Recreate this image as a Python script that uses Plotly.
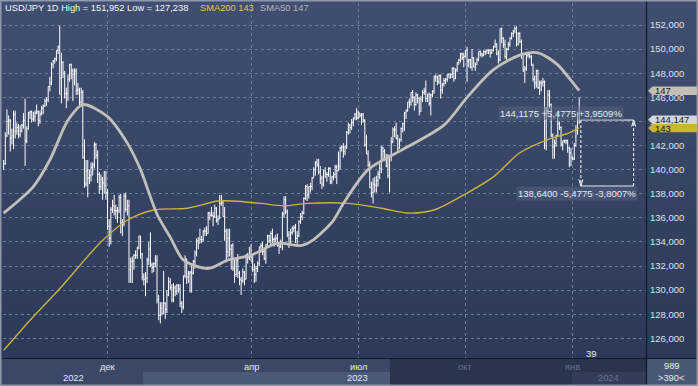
import plotly.graph_objects as go
import pandas as pd

# ---------------- data ----------------
symbol = "USD/JPY"
timeframe = "1D"
dates = pd.bdate_range("2022-09-05", "2024-01-05")  # one bar per weekday

opens = [
    # Sep 2022
    140.2,140.5,142.8,144.0,144.1,142.6,142.8,144.6,143.2,143.5,142.9,143.2,143.7,144.1,142.4,143.4,144.7,144.8,144.2,144.4,
    # Oct 2022
    144.7,144.8,144.1,144.6,145.1,145.3,145.7,145.8,146.9,147.2,148.7,149.0,149.2,149.9,150.2,147.6,148.9,148.0,146.3,146.3,147.5,
    # Nov 2022
    148.7,148.2,147.9,148.2,146.6,146.6,145.6,146.4,141.0,138.8,139.9,139.3,139.5,140.2,140.4,142.1,141.2,139.6,138.6,139.2,138.9,138.7,
    # Dec 2022
    138.1,135.3,134.3,136.7,137.0,136.6,136.6,136.6,137.7,135.6,135.5,137.8,136.7,137.0,131.7,132.4,132.4,132.9,132.9,133.5,134.5,133.0,
    # Jan 2023
    131.1,130.9,131.0,132.5,133.4,132.1,131.9,132.2,132.5,129.2,127.9,128.5,128.1,128.9,128.4,129.6,130.7,130.2,129.2,130.2,129.9,130.4,
    # Feb 2023
    130.1,128.9,128.6,131.2,132.6,131.1,131.4,131.5,131.4,132.4,133.1,134.1,133.9,134.2,134.2,134.9,134.9,134.7,136.4,136.2,
    # Mar 2023
    136.2,136.1,136.8,135.8,135.9,137.2,137.3,136.1,134.9,133.2,134.3,133.4,133.7,131.8,131.3,132.5,131.4,130.9,130.8,131.5,130.9,132.9,132.7,
    # Apr 2023
    132.8,132.4,131.7,131.3,131.8,132.2,133.6,133.7,133.2,132.6,133.8,134.5,134.1,134.7,134.2,134.2,134.3,133.7,133.6,133.9,
    # May 2023
    136.3,137.5,136.5,134.6,134.3,134.8,135.1,135.2,134.3,134.5,135.7,136.1,136.4,137.6,138.6,137.9,138.6,138.6,139.3,140.0,140.6,140.4,139.8,
    # Jun 2023
    139.3,138.8,139.9,139.6,139.6,140.1,139.0,139.4,139.6,140.2,139.9,140.3,141.8,141.9,141.5,141.9,143.1,143.7,143.5,143.9,144.3,144.6,
    # Jul 2023
    144.3,144.7,144.5,144.6,144.1,142.1,141.3,140.4,138.5,138.1,138.8,138.7,139.1,139.6,140.1,141.8,141.5,140.9,140.3,139.5,141.2,
    # Aug 2023
    142.3,143.3,143.3,142.6,141.8,142.5,143.4,143.8,144.7,144.9,145.6,145.6,146.4,146.0,145.4,146.2,145.9,144.8,145.8,146.4,146.5,145.9,146.2,
    # Sep 2023
    145.5,146.2,146.5,147.7,147.7,147.3,147.8,146.6,147.1,147.4,147.5,147.9,147.6,147.9,148.4,147.6,148.3,148.9,149.1,149.6,149.3,
    # Oct 2023
    149.4,149.9,149.0,149.1,148.5,149.3,148.5,148.7,149.1,149.8,149.6,149.5,149.8,149.8,149.9,149.9,149.7,149.9,150.2,150.4,149.6,149.1,
    # Nov 2023
    151.7,150.9,150.4,149.4,150.0,150.4,150.9,151.3,151.5,151.7,150.4,151.3,150.6,149.6,148.3,148.4,149.5,149.6,149.4,148.7,147.5,147.2,
    # Dec 2023
    148.2,146.8,147.2,147.2,147.3,144.1,144.9,146.2,145.4,142.9,141.9,142.2,142.8,143.8,143.5,142.1,142.4,142.4,142.4,141.8,141.4,
    # Jan 2024
    141.0,140.9,142.0,143.3,144.6,
]
highs = [
    140.8,143.1,145.0,144.5,144.2,143.4,144.9,144.9,143.9,143.8,143.7,143.8,144.7,145.9,143.6,144.8,144.9,144.9,144.8,144.9,
    145.4,144.9,144.9,145.3,145.4,145.9,146.0,146.9,147.7,148.9,149.1,149.3,149.9,150.3,151.952,149.7,149.0,148.2,146.8,147.9,148.8,
    148.8,148.4,148.4,148.4,147.2,146.8,146.8,146.6,142.5,140.8,140.8,140.0,140.6,140.6,142.3,142.2,141.6,139.8,139.6,139.4,139.9,139.9,
    138.4,135.9,136.9,137.5,137.9,137.1,136.9,137.9,138.0,135.9,138.0,138.1,137.5,137.5,132.7,132.8,133.0,133.3,133.6,134.5,134.5,133.1,
    131.4,131.5,132.7,134.0,134.8,132.3,132.3,132.9,132.9,129.6,129.0,129.0,131.6,129.0,130.0,131.1,131.0,130.5,130.6,130.4,130.5,130.5,
    130.5,129.1,131.2,132.9,132.6,131.6,131.6,132.0,132.5,133.3,134.3,134.4,135.1,134.5,135.0,135.2,135.3,136.5,136.5,136.9,
    136.5,137.1,136.9,136.2,137.9,137.9,137.5,136.9,135.1,135.1,135.1,133.8,133.9,132.6,132.6,133.0,131.6,131.1,131.8,131.6,133.0,133.1,133.6,
    133.8,132.9,132.2,132.0,132.4,133.6,133.9,134.0,133.4,133.8,134.6,134.6,134.9,135.1,134.4,134.6,134.7,133.9,134.2,136.5,
    137.8,137.8,136.7,134.9,135.1,135.3,135.4,135.5,134.9,135.8,136.4,136.6,137.7,138.7,138.8,138.6,138.9,139.4,140.2,140.7,140.9,140.9,140.3,
    139.5,140.0,140.2,139.8,140.2,140.2,139.5,139.8,140.4,140.4,141.5,141.9,142.0,142.2,142.0,143.2,143.9,143.8,144.2,144.3,144.7,145.1,
    144.9,144.7,144.7,144.7,144.2,142.9,141.6,140.7,139.0,139.3,139.4,139.5,139.9,140.5,142.0,141.9,141.7,141.3,141.3,141.2,142.7,
    143.5,143.6,143.9,142.9,142.6,143.5,143.9,144.8,145.0,145.6,145.9,146.4,146.6,146.1,146.4,146.3,146.0,146.1,146.6,146.8,147.4,146.3,146.4,
    146.3,146.6,147.8,147.9,147.8,147.9,147.9,147.2,147.6,147.6,147.9,148.0,148.0,148.5,148.5,148.4,148.9,149.2,149.7,149.7,149.7,
    149.9,150.2,149.2,149.2,150.0,149.3,148.9,149.3,149.8,149.9,149.7,149.9,149.9,150.0,150.0,150.0,150.0,150.3,150.8,150.5,149.9,151.7,
    151.8,151.0,150.8,150.1,150.6,151.0,151.4,151.6,151.9,151.9,151.4,151.4,150.8,149.7,148.6,149.6,149.8,149.7,149.5,148.8,147.8,148.3,
    148.3,147.4,147.4,147.6,147.4,145.2,146.6,146.6,145.5,143.0,142.5,142.9,144.9,144.0,143.6,142.4,142.5,142.5,142.5,141.9,141.8,
    141.1,142.2,143.7,144.8,146.0,
]
lows = [
    140.0,140.4,142.7,142.9,141.5,142.1,141.7,142.6,142.9,142.6,142.7,143.1,143.4,140.3,142.2,143.3,144.2,143.9,144.0,144.0,
    144.6,143.6,143.8,144.5,144.6,145.2,145.3,145.6,146.5,147.0,148.4,148.8,149.0,149.6,146.2,145.5,147.6,145.9,145.1,145.7,147.3,
    147.5,145.7,147.0,146.2,146.2,145.3,145.2,140.9,138.5,138.6,137.7,138.8,139.0,139.5,140.1,140.9,138.9,138.0,138.3,137.5,138.0,137.5,
    135.0,133.6,133.8,136.4,136.2,135.9,135.6,136.4,134.7,134.5,135.3,136.5,136.2,130.6,130.6,130.6,131.7,132.6,132.6,133.4,132.6,130.8,
    130.4,129.5,130.6,132.1,131.9,131.4,131.5,131.9,128.9,127.5,127.238,127.9,128.0,127.6,128.1,129.5,130.0,129.0,129.0,129.5,129.6,129.8,
    128.6,128.1,128.4,131.0,130.5,130.6,129.8,129.8,131.3,131.8,132.8,133.4,133.9,133.9,134.0,134.5,134.5,134.7,135.8,136.1,
    135.3,136.0,135.6,135.4,135.9,137.0,136.1,134.1,132.3,132.7,132.8,131.7,131.6,130.6,131.1,131.0,130.4,129.6,130.6,130.4,130.9,132.2,132.5,
    132.4,131.5,130.6,130.7,131.5,132.0,133.1,132.9,132.5,132.2,133.6,133.9,133.8,133.9,133.6,134.0,133.6,133.0,133.5,133.3,
    136.0,136.3,134.4,133.5,133.9,134.6,134.8,133.9,133.7,134.4,135.5,135.8,136.3,137.5,137.4,137.6,138.1,138.3,139.3,139.5,140.2,139.6,138.8,
    138.4,138.6,139.3,139.0,139.4,138.8,138.8,139.1,139.3,138.8,139.9,140.0,141.5,141.0,141.2,141.7,142.9,143.0,143.3,143.6,144.1,144.1,
    144.2,144.3,143.7,143.9,141.9,141.3,140.2,138.5,137.7,137.2,138.1,138.1,138.6,139.2,139.7,140.9,140.7,140.2,139.3,138.1,140.7,
    142.2,142.7,142.5,141.5,141.7,142.3,143.1,143.2,144.2,144.8,145.1,145.3,145.6,144.9,145.3,145.5,144.5,144.8,145.6,146.2,145.6,145.6,145.3,
    144.5,146.0,146.3,147.3,147.0,147.1,145.9,146.3,146.9,147.1,147.3,147.6,147.6,147.6,147.3,147.5,148.1,148.7,148.9,149.1,148.5,
    149.3,147.3,148.5,148.4,148.2,148.5,148.2,148.7,149.0,149.4,149.3,149.4,149.5,149.6,149.6,149.3,149.6,149.8,150.1,149.5,148.8,149.0,
    150.5,150.1,149.2,149.1,149.9,150.2,150.8,151.0,151.3,150.2,150.3,150.5,149.2,148.1,147.2,148.2,149.3,149.2,148.6,147.3,146.7,146.8,
    146.7,146.2,146.5,146.9,141.7,141.6,144.8,145.1,142.7,140.9,140.9,141.9,142.7,143.3,141.9,141.6,142.2,142.1,141.4,140.2,140.3,
    140.8,140.8,141.9,142.9,143.8,
]
closes = [
    140.5,142.8,144.0,144.1,142.6,142.8,144.6,143.2,143.5,142.9,143.2,143.7,144.1,142.4,143.4,144.7,144.8,144.2,144.4,144.7,
    144.8,144.1,144.6,145.1,145.3,145.7,145.8,146.9,147.2,148.7,149.0,149.2,149.9,150.2,147.6,148.9,148.0,146.3,146.3,147.5,148.7,
    148.2,147.9,148.2,146.6,146.6,145.6,146.4,141.0,138.8,139.9,139.3,139.5,140.2,140.4,142.1,141.2,139.6,138.6,139.2,138.9,138.7,138.1,
    135.3,134.3,136.7,137.0,136.6,136.6,136.6,137.7,135.6,135.5,137.8,136.7,137.0,131.7,132.4,132.4,132.9,132.9,133.5,134.5,133.0,131.1,
    130.9,131.0,132.5,133.4,132.1,131.9,132.2,132.5,129.2,127.9,128.5,128.1,128.9,128.4,129.6,130.7,130.2,129.2,130.2,129.9,130.4,130.1,
    128.9,128.6,131.2,132.6,131.1,131.4,131.5,131.4,132.4,133.1,134.1,133.9,134.2,134.2,134.9,134.9,134.7,136.4,136.2,136.2,
    136.1,136.8,135.8,135.9,137.2,137.3,136.1,134.9,133.2,134.3,133.4,133.7,131.8,131.3,132.5,131.4,130.9,130.8,131.5,130.9,132.9,132.7,132.8,
    132.4,131.7,131.3,131.8,132.2,133.6,133.7,133.2,132.6,133.8,134.5,134.1,134.7,134.2,134.2,134.3,133.7,133.6,133.9,136.3,
    137.5,136.5,134.6,134.3,134.8,135.1,135.2,134.3,134.5,135.7,136.1,136.4,137.6,138.6,137.9,138.6,138.6,139.3,140.0,140.6,140.4,139.8,139.3,
    138.8,139.9,139.6,139.6,140.1,139.0,139.4,139.6,140.2,139.9,140.3,141.8,141.9,141.5,141.9,143.1,143.7,143.5,143.9,144.3,144.6,144.3,
    144.7,144.5,144.6,144.1,142.1,141.3,140.4,138.5,138.1,138.8,138.7,139.1,139.6,140.1,141.8,141.5,140.9,140.3,139.5,141.2,142.3,
    143.3,143.3,142.6,141.8,142.5,143.4,143.8,144.7,144.9,145.6,145.6,146.4,146.0,145.4,146.2,145.9,144.8,145.8,146.4,146.5,145.9,146.2,145.5,
    146.2,146.5,147.7,147.7,147.3,147.8,146.6,147.1,147.4,147.5,147.9,147.6,147.9,148.4,147.6,148.3,148.9,149.1,149.6,149.3,149.4,
    149.9,149.0,149.1,148.5,149.3,148.5,148.7,149.1,149.8,149.6,149.5,149.8,149.8,149.9,149.9,149.7,149.9,150.2,150.4,149.6,149.1,151.7,
    150.9,150.4,149.4,150.0,150.4,150.9,151.3,151.5,151.7,150.4,151.3,150.6,149.6,148.3,148.4,149.5,149.6,149.4,148.7,147.5,147.2,148.2,
    146.8,147.2,147.2,147.3,144.1,144.9,146.2,145.4,142.9,141.9,142.2,142.8,143.8,143.5,142.1,142.4,142.4,142.4,141.8,141.4,141.0,
    140.9,142.0,143.3,144.6,144.147,
]

# moving averages (bar position, value)
sma50_pos = [0, 18, 28, 39, 48, 63, 75, 83, 93, 101, 109, 124, 136, 150, 166, 180, 188, 200, 206,
             221, 241, 267, 281, 297, 313, 324, 336, 344, 349]
sma50_val = [136.4, 138.6, 140.8, 144.1, 145.4, 144.4, 142.2, 140.0, 136.3, 134.4, 132.5, 131.8, 132.5,
             132.9, 133.9, 133.7, 134.2, 135.8, 137.2, 140.0, 141.6, 143.7, 146.0, 148.3, 149.5, 149.7,
             148.7, 147.4, 146.55]
sma200_pos = [0, 16, 34.5, 59, 75, 91, 111.5, 130, 139, 156, 170, 184, 209, 229, 245, 261, 281, 297,
              313, 330, 342, 349]
sma200_val = [125.0, 127.5, 130.2, 134.0, 135.8, 136.65, 136.8, 137.4, 137.4, 137.2, 137.0, 137.2, 137.2,
              136.8, 136.4, 136.65, 138.06, 139.4, 141.4, 142.5, 143.0, 143.45]

month_ticks = ["2022-12", "2023-04", "2023-07", "2023-10", "2024-01"]
month_names = ["дек", "апр", "июл", "окт", "янв"]
ytick_vals = list(range(126, 153, 2))
ytick_text = [f"{v},000" for v in ytick_vals]

measure_top = 144.1175
measure_bottom = 138.64
measure_left_pos = 350
measure_right_pos = 382
measure_count = "39"
footer_total = "989"
footer_visible = ">390<"

for name, arr in (("opens", opens), ("highs", highs), ("lows", lows), ("closes", closes)):
    if len(arr) != len(dates):
        raise SystemExit(f"{name}: {len(arr)} values for {len(dates)} dates")

# ---------------- layout constants ----------------
W, H = 698, 386
ML, MR, MT, MB = 3, 52, 3, 28
PW, PH = W - ML - MR, H - MT - MB
X0, X1 = -0.4, 389.5
Y0, Y1 = 124.37, 153.83
FONT = "Liberation Sans, Arial, sans-serif"


def px(xp):
    return (xp - ML) / PW


def py(yp):
    return (H - MB - yp) / PH


def vy(v):
    return (v - Y0) / (Y1 - Y0)


def fmt(v, d):
    return f"{v:.{d}f}".replace(".", ",")


pos = list(range(len(dates)))
fig = go.Figure()

fig.add_trace(go.Ohlc(
    x=pos, open=opens, high=highs, low=lows, close=closes,
    increasing=dict(line=dict(color="#ffffff", width=1)),
    decreasing=dict(line=dict(color="#ffffff", width=1)),
    tickwidth=0.5, hoverinfo="skip", showlegend=False,
))
fig.add_trace(go.Scatter(
    x=sma200_pos, y=sma200_val, mode="lines",
    line=dict(color="#cdb240", width=1.4, shape="spline", smoothing=0.8),
    hoverinfo="skip", showlegend=False,
))
fig.add_trace(go.Scatter(
    x=sma50_pos, y=sma50_val, mode="lines",
    line=dict(color="#c3bfb9", width=2.8, shape="spline", smoothing=0.8),
    hoverinfo="skip", showlegend=False,
))

# month ticks: first bar of each listed month
ym = [d.strftime("%Y-%m") for d in dates]
month_pos = [ym.index(m) if m in ym else None for m in month_ticks]

shapes = []
annotations = []

# background gradient (plot + right panel)
top_rgb = (0x40, 0x4f, 0x71)
bot_rgb = (0x2c, 0x39, 0x58)
nb = 36
band_h = (H - MB) / nb
for k in range(nb):
    t = k / (nb - 1)
    c = tuple(round(top_rgb[j] + (bot_rgb[j] - top_rgb[j]) * t) for j in range(3))
    shapes.append(dict(type="rect", xref="paper", yref="paper", layer="below",
                       x0=px(0), x1=px(W), y0=py(k * band_h + band_h + 0.5), y1=py(k * band_h),
                       fillcolor="rgb(%d,%d,%d)" % c, line_width=0))


def prect(x0, y0, x1, y1, color, layer="below"):
    shapes.append(dict(type="rect", xref="paper", yref="paper", layer=layer,
                       x0=px(x0), x1=px(x1), y0=py(y1), y1=py(y0), fillcolor=color, line_width=0))


# bottom panel
prect(0, H - MB, 390, H, "#3a4767")
prect(143, 372, 390, H, "#4b5979")
prect(390, H - MB, ML + PW, H, "#29354f")
prect(572, 372, ML + PW, H, "#313d59")
prect(ML + PW, H - MB, W, H, "#4a5877")

# separators and frame
shapes.append(dict(type="line", xref="paper", yref="paper", layer="above",
                   x0=px(ML + PW + 0.5), x1=px(ML + PW + 0.5), y0=py(H), y1=py(0),
                   line=dict(color="#0f1828", width=1.2)))
shapes.append(dict(type="line", xref="paper", yref="paper", layer="above",
                   x0=px(0), x1=px(W), y0=py(H - MB + 0.5), y1=py(H - MB + 0.5),
                   line=dict(color="#0f1828", width=1.2)))
shapes.append(dict(type="rect", xref="paper", yref="paper", layer="above",
                   x0=px(0.75), x1=px(W - 0.75), y0=py(H - 0.75), y1=py(0.75),
                   line=dict(color="#8d98ad", width=1.5), fillcolor="rgba(0,0,0,0)"))

# measurement tool
mdiff = measure_top - measure_bottom
shapes += [
    dict(type="line", xref="x", yref="y", x0=measure_left_pos, x1=measure_right_pos,
         y0=measure_top, y1=measure_top, line=dict(color="#ffffff", width=1)),
    dict(type="line", xref="x", yref="y", x0=measure_left_pos, x1=measure_right_pos,
         y0=measure_bottom, y1=measure_bottom, line=dict(color="#ffffff", width=1)),
    dict(type="line", xref="x", yref="y", x0=measure_left_pos, x1=measure_left_pos,
         y0=measure_top, y1=measure_bottom, line=dict(color="#ffffff", width=1, dash="3px,2px")),
    dict(type="line", xref="x", yref="y", x0=measure_right_pos, x1=measure_right_pos,
         y0=measure_bottom, y1=measure_top, line=dict(color="#ffffff", width=1, dash="3px,2px")),
    dict(type="path", xref="x", yref="y",
         path=f"M {measure_left_pos-1.2},{measure_bottom+0.55} L {measure_left_pos},{measure_bottom} "
              f"L {measure_left_pos+1.2},{measure_bottom+0.55}",
         line=dict(color="#ffffff", width=1)),
    dict(type="path", xref="x", yref="y",
         path=f"M {measure_right_pos-1.2},{measure_top-0.55} L {measure_right_pos},{measure_top} "
              f"L {measure_right_pos+1.2},{measure_top-0.55}",
         line=dict(color="#ffffff", width=1)),
]
top_txt = f"{fmt(measure_top, 4)} +{fmt(mdiff, 4)} +{fmt(mdiff / measure_bottom * 100, 4)}%"
bot_txt = f"{fmt(measure_bottom, 4)} -{fmt(mdiff, 4)} -{fmt(mdiff / measure_top * 100, 4)}%"
annotations.append(dict(text=top_txt, xref="paper", yref="paper", x=px(624), y=py(113),
                        xanchor="right", yanchor="middle", showarrow=False,
                        font=dict(family=FONT, size=9.5, color="#e6e9ef"),
                        bgcolor="rgba(90,105,135,0.45)", borderpad=1))
annotations.append(dict(text=bot_txt, xref="paper", yref="paper", x=px(638), y=py(194),
                        xanchor="right", yanchor="middle", showarrow=False,
                        font=dict(family=FONT, size=9.5, color="#e6e9ef"),
                        bgcolor="rgba(90,105,135,0.45)", borderpad=1))
annotations.append(dict(text=measure_count, xref="paper", yref="paper", x=px(591), y=py(353),
                        xanchor="center", yanchor="middle", showarrow=False,
                        font=dict(family=FONT, size=9.5, color="#e6e9ef")))


# price tags on the right axis
def tag(value, text, fill):
    yc = vy(value)
    hh = 4.2 / PH
    xa, xb, xc = px(648), px(652.5), px(W - 1)
    shapes.append(dict(type="path", xref="paper", yref="paper", layer="above",
                       path=f"M {xa},{yc} L {xb},{yc+hh} L {xc},{yc+hh} L {xc},{yc-hh} L {xb},{yc-hh} Z",
                       fillcolor=fill, line_width=0))
    annotations.append(dict(text=text, xref="paper", yref="y", x=px(652.5), y=value,
                            xanchor="left", yanchor="middle", showarrow=False,
                            font=dict(family=FONT, size=9.5, color="#1c1c1c")))


tag(sma50_val[-1], f"{round(sma50_val[-1])}", "#c3beb6")
tag(closes[-1], fmt(closes[-1], 3), "#d2d5dc")
tag(sma200_val[-1], f"{round(sma200_val[-1])}", "#c9b436")

# header
header = f"{symbol} {timeframe} High = {fmt(max(highs), 3)} Low = {fmt(min(lows), 3)}"
annotations.append(dict(text=header, xref="paper", yref="paper", x=px(3), y=py(8),
                        xanchor="left", yanchor="middle", showarrow=False,
                        font=dict(family=FONT, size=9.3, color="#f2f4f8")))
annotations.append(dict(text=f"SMA200 {round(sma200_val[-1])}", xref="paper", yref="paper",
                        x=px(198), y=py(8), xanchor="left", yanchor="middle", showarrow=False,
                        font=dict(family=FONT, size=9.3, color="#e3c64a")))
annotations.append(dict(text=f"SMA50 {round(sma50_val[-1])}", xref="paper", yref="paper",
                        x=px(258), y=py(8), xanchor="left", yanchor="middle", showarrow=False,
                        font=dict(family=FONT, size=9.3, color="#b9b6b2")))

# x labels: months and years
for p, lab in zip(month_pos, month_names):
    dim = p > 216
    annotations.append(dict(text=lab, xref="x", yref="paper", x=p, y=py(367),
                            xanchor="center", yanchor="middle", showarrow=False,
                            font=dict(family=FONT, size=9.3, color="#66738e" if dim else "#e4e8ee")))
years = sorted(set(d.year for d in dates))
for yr in years:
    idxs = [i for i, d in enumerate(dates) if d.year == yr]
    a = max(X0, idxs[0] - 0.5)
    b = X1 if yr == years[-1] else idxs[-1] + 0.5
    cx = (a + b) / 2
    annotations.append(dict(text=str(yr), xref="x", yref="paper", x=cx, y=py(378),
                            xanchor="center", yanchor="middle", showarrow=False,
                            font=dict(family=FONT, size=9.3,
                                      color="#66738e" if yr == years[-1] else "#e4e8ee")))

annotations.append(dict(text=footer_total, xref="paper", yref="paper", x=px(672), y=py(366),
                        xanchor="center", yanchor="middle", showarrow=False,
                        font=dict(family=FONT, size=9.3, color="#e4e8ee")))
annotations.append(dict(text=footer_visible, xref="paper", yref="paper", x=px(671), y=py(378),
                        xanchor="center", yanchor="middle", showarrow=False,
                        font=dict(family=FONT, size=9.3, color="#e4e8ee")))

fig.update_layout(
    width=W, height=H,
    margin=dict(l=ML, r=MR, t=MT, b=MB, pad=0),
    paper_bgcolor="#34415f", plot_bgcolor="rgba(0,0,0,0)",
    showlegend=False,
    shapes=shapes, annotations=annotations,
    xaxis=dict(range=[X0, X1], tickmode="array", tickvals=month_pos, showticklabels=False,
               ticks="", showgrid=True, gridcolor="#6e7c99", griddash="3px,3px", gridwidth=1,
               zeroline=False, showline=False, rangeslider=dict(visible=False), fixedrange=True),
    yaxis=dict(range=[Y0, Y1], side="right", tickmode="array", tickvals=ytick_vals,
               ticktext=ytick_text, ticks="", showgrid=True, gridcolor="#6e7c99",
               griddash="3px,3px", gridwidth=1, zeroline=False, showline=False,
               tickfont=dict(family=FONT, size=9.5, color="#dde2ea"), ticklabelstandoff=3,
               fixedrange=True),
)

fig.write_html(
    "out.html",
    config=dict(displayModeBar=False, staticPlot=True),
    post_script="document.body.style.margin='0';document.body.style.overflow='hidden';",
)
